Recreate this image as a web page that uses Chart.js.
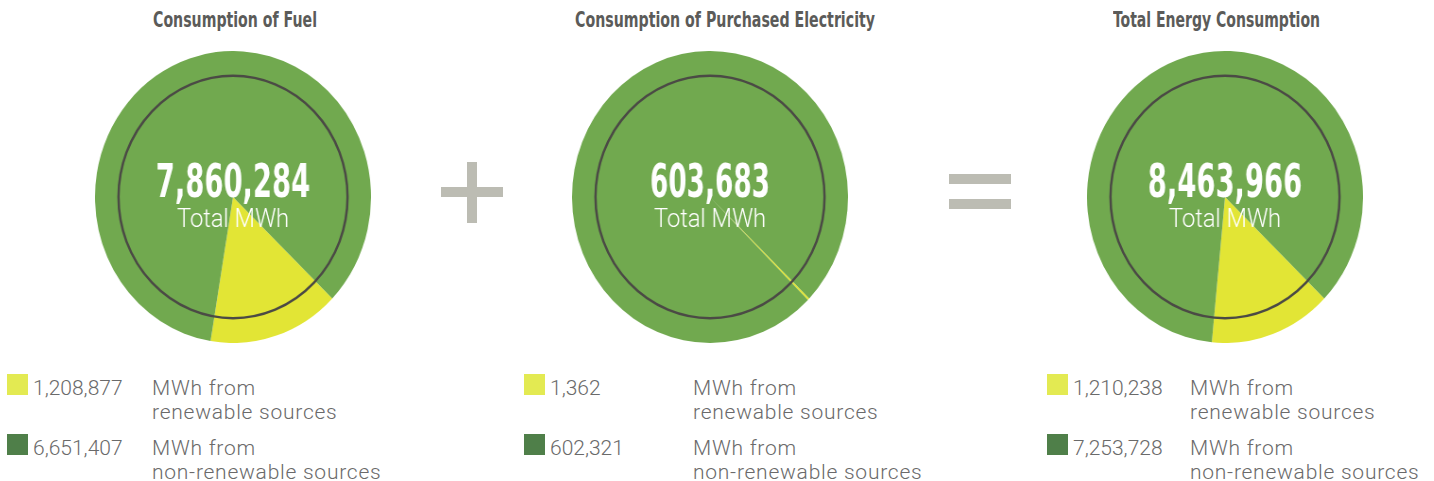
<!DOCTYPE html>
<html>
<head>
<meta charset="utf-8">
<script src="https://cdn.jsdelivr.net/npm/chart.js@4.4.1/dist/chart.umd.min.js"></script>
<style>
  html, body { margin: 0; padding: 0; background: #fff; }
  body { width: 1434px; height: 481px; position: relative; overflow: hidden; font-family: Roboto, sans-serif; }
  .abs { position: absolute; }
  .title { font-family: "Liberation Sans Narrow", "DejaVu Sans Condensed", sans-serif; font-weight: bold;
           font-size: 21px; color: #5b5b59; white-space: nowrap; transform-origin: 0 0; top: 8px; }
  .swatch { width: 21px; height: 21px; }
  .num, .note { font-size: 21px; font-weight: 300; color: #6a6a6a; line-height: 24px; white-space: pre; }
  .note { letter-spacing: 0.75px; }
  .op { background: #bcbcb3; }
</style>
</head>
<body>
<script>
// values per panel: fuel, purchased electricity, total
const titles = ['Consumption of Fuel', 'Consumption of Purchased Electricity', 'Total Energy Consumption'];
const renewable = [1208877, 1362, 1210238];
const nonRenewable = [6651407, 602321, 7253728];
const sourceNotes = ['MWh from\nrenewable sources', 'MWh from\nnon-renewable sources'];
const centerUnit = 'Total MWh';

// layout
const centerX = [233, 710, 1225];
const centerY = 197;
const radius = 146;
const squeeze = 0.948;           // pies are drawn slightly narrower than tall
const titleLeft = [153, 575, 1113];
const titleWidth = [164, 300, 207];
const swatchX = [7, 524, 1047];
const noteX = [152, 693, 1190];
const rowY = [374, 434];

const green = '#71a94f';
const yellow = '#e2e535';
const swatchColors = ['#e3ea52', '#4f7f49'];

function fmt(v) { return v.toLocaleString('en-US'); }

function add(cls, css, text) {
  const el = document.createElement('div');
  el.className = 'abs ' + cls;
  Object.assign(el.style, css);
  if (text != null) el.textContent = text;
  document.body.appendChild(el);
  return el;
}

// inner ring and the total in the middle of each pie
const centerPlugin = {
  id: 'centerLabel',
  afterDatasetsDraw(chart) {
    const ctx = chart.ctx;
    const arc = chart.getDatasetMeta(0).data[0];
    const x = arc.x, y = arc.y, r = arc.outerRadius;
    ctx.save();
    ctx.beginPath();
    ctx.arc(x, y, r * 0.83, 0, Math.PI * 2);
    ctx.lineWidth = 2.5;
    ctx.strokeStyle = '#4b4a45';
    ctx.stroke();

    const total = chart.data.datasets[0].data.reduce((a, b) => a + b, 0);
    const text = fmt(total);
    ctx.fillStyle = '#ffffff';
    ctx.textAlign = 'center';
    ctx.textBaseline = 'alphabetic';
    ctx.font = 'bold 47px "Liberation Sans Narrow", "DejaVu Sans Condensed", sans-serif';
    ctx.fillText(text, x, y, text.length * 17.2 / squeeze);
    ctx.font = '300 25px Roboto, sans-serif';
    ctx.fillText(centerUnit, x, y + 30);
    ctx.restore();
  }
};

titles.forEach((t, i) => {
  const el = add('title', {}, t);
  const w = el.getBoundingClientRect().width;
  el.style.left = titleLeft[i] + 'px';
  el.style.transform = 'scaleX(' + (titleWidth[i] / w) + ')';

  const canvas = document.createElement('canvas');
  canvas.width = radius * 2;
  canvas.height = radius * 2;
  canvas.className = 'abs';
  canvas.style.width = (radius * 2 * squeeze) + 'px';
  canvas.style.height = (radius * 2) + 'px';
  canvas.style.left = (centerX[i] - radius * squeeze) + 'px';
  canvas.style.top = (centerY - radius) + 'px';
  document.body.appendChild(canvas);

  new Chart(canvas, {
    type: 'pie',
    data: {
      labels: ['renewable', 'non-renewable'],
      datasets: [{
        data: [renewable[i], nonRenewable[i]],
        backgroundColor: [yellow, green],
        borderWidth: 0
      }]
    },
    options: {
      responsive: false,
      animation: false,
      rotation: 134,
      layout: { padding: 0 },
      plugins: { legend: { display: false }, tooltip: { enabled: false } }
    },
    plugins: [centerPlugin]
  });

  const values = [renewable[i], nonRenewable[i]];
  rowY.forEach((y, k) => {
    add('swatch', { left: swatchX[i] + 'px', top: y + 'px', background: swatchColors[k] });
    add('num', { left: (swatchX[i] + 26) + 'px', top: (y + 2) + 'px' }, fmt(values[k]));
    add('note', { left: noteX[i] + 'px', top: (y + 2) + 'px' }, sourceNotes[k]);
  });
});

// plus and equals signs between the pies
add('op', { left: '467px', top: '162px', width: '10px', height: '61px' });
add('op', { left: '441px', top: '187px', width: '62px', height: '10px' });
add('op', { left: '949px', top: '174px', width: '62px', height: '10px' });
add('op', { left: '949px', top: '199px', width: '62px', height: '10px' });
</script>
</body>
</html>
